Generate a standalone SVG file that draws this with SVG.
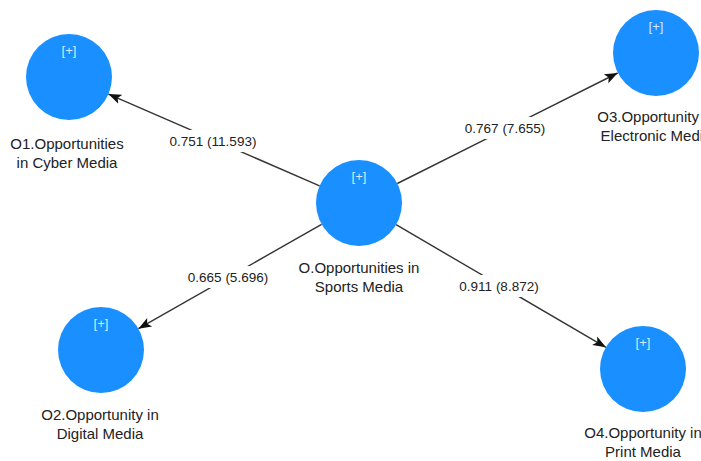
<svg xmlns="http://www.w3.org/2000/svg" width="701" height="461" viewBox="0 0 701 461">
<defs>
<marker id="arr" markerUnits="userSpaceOnUse" markerWidth="14" markerHeight="12" refX="13" refY="6" orient="auto">
<path d="M0,1 L13,6 L0,11 L3,6 Z" fill="#111"/>
</marker>
<style>
.node{fill:#1a8fff;}
.plus{font-family:"Liberation Sans",Arial,sans-serif;font-size:13px;fill:#d6eaff;text-anchor:middle;}
.lbl{font-family:"Liberation Sans",Arial,sans-serif;font-size:13.5px;fill:#222;text-anchor:middle;}
.nl{font-family:"Liberation Sans",Arial,sans-serif;font-size:15px;fill:#222;text-anchor:middle;}
.edge{stroke:#333;stroke-width:1.4;fill:none;}
.ebg{fill:#fff;}
</style>
</defs>
<rect width="701" height="461" fill="#fff"/>
<g id="connectors">
<line class="edge" x1="319.6" y1="185.9" x2="108.4" y2="94.1" marker-end="url(#arr)"/>
<line class="edge" x1="397.3" y1="183.5" x2="617.7" y2="73" marker-end="url(#arr)"/>
<line class="edge" x1="321.6" y1="224.3" x2="138.4" y2="328.7" marker-end="url(#arr)"/>
<line class="edge" x1="396.1" y1="224.7" x2="605.9" y2="347.3" marker-end="url(#arr)"/>
<rect class="ebg" x="166" y="130" width="94" height="22"/>
<text class="lbl" x="213" y="146">0.751 (11.593)</text>
<rect class="ebg" x="462" y="117" width="86" height="22"/>
<text class="lbl" x="505" y="133">0.767 (7.655)</text>
<rect class="ebg" x="185" y="266" width="86" height="22"/>
<text class="lbl" x="228" y="282">0.665 (5.696)</text>
<rect class="ebg" x="456" y="275" width="86" height="22"/>
<text class="lbl" x="499" y="291">0.911 (8.872)</text>
</g>
<g id="O">
<circle class="node" cx="359" cy="203" r="43"/>
<text class="plus" x="359" y="181">[+]</text>
<text class="nl" x="359" y="273">O.Opportunities in</text>
<text class="nl" x="359" y="292">Sports Media</text>
</g>
<g id="O1">
<circle class="node" cx="69" cy="77" r="43"/>
<text class="plus" x="69" y="55">[+]</text>
<text class="nl" x="67" y="149">O1.Opportunities</text>
<text class="nl" x="67" y="168">in Cyber Media</text>
</g>
<g id="O2">
<circle class="node" cx="101" cy="350" r="43"/>
<text class="plus" x="101" y="328">[+]</text>
<text class="nl" x="100" y="420">O2.Opportunity in</text>
<text class="nl" x="100" y="439">Digital Media</text>
</g>
<g id="O3">
<circle class="node" cx="656" cy="53" r="43"/>
<text class="plus" x="656" y="31">[+]</text>
<text class="nl" x="656" y="122">O3.Opportunity in</text>
<text class="nl" x="656" y="141">Electronic Media</text>
</g>
<g id="O4">
<circle class="node" cx="643" cy="369" r="43"/>
<text class="plus" x="643" y="347">[+]</text>
<text class="nl" x="643" y="438">O4.Opportunity in</text>
<text class="nl" x="643" y="457">Print Media</text>
</g>
</svg>
